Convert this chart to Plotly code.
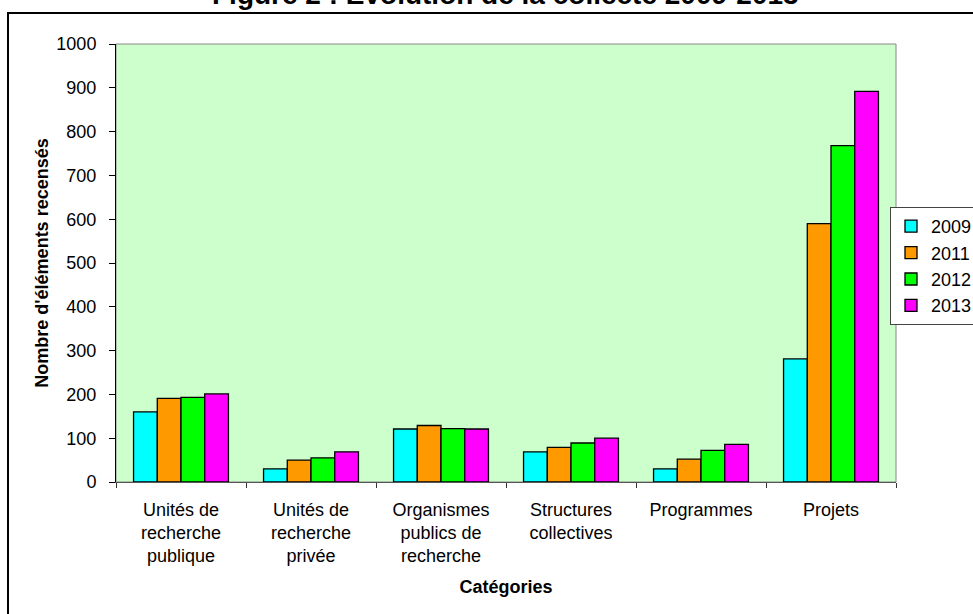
import plotly.graph_objects as go

categories = ["Unités de<br>recherche<br>publique", "Unités de<br>recherche<br>privée",
              "Organismes<br>publics de<br>recherche", "Structures<br>collectives",
              "Programmes", "Projets"]
years = ["2009", "2011", "2012", "2013"]
v2009 = [160, 30, 121, 69, 30, 281]
v2011 = [191, 50, 129, 79, 52, 590]
v2012 = [193, 55, 122, 89, 72, 768]
v2013 = [201, 69, 121, 100, 86, 892]
series = [v2009, v2011, v2012, v2013]
colors = ["#00FFFF", "#FF9900", "#00FF00", "#FF00FF"]
yticks = list(range(0, 1001, 100))
title_text = "Figure 2 : Évolution de la collecte 2009-2013"

W, H = 973, 614
L, R, T, B = 116, 896, 44, 482

fig = go.Figure()
for name, vals, col in zip(years, series, colors):
    fig.add_trace(go.Bar(x=categories, y=vals, name=name,
                         marker=dict(color=col, line=dict(color="black", width=1.3))))

font = "Arial, Liberation Sans, sans-serif"
fig.update_layout(
    width=W, height=H,
    margin=dict(l=L, r=W - R, t=T, b=H - B, pad=0, autoexpand=False),
    paper_bgcolor="white", plot_bgcolor="#CCFFCC",
    barmode="group", bargap=0.27, bargroupgap=0,
    font=dict(family=font, size=18, color="black"),
    annotations=[dict(text="<b>" + title_text + "</b>", xref="paper", yref="paper",
                      x=(505 - L) / (R - L), y=(B + 5) / (B - T),
                      xanchor="center", yanchor="middle", showarrow=False,
                      font=dict(size=28, family=font, color="black"))],
    legend=dict(x=(890 - L) / (R - L), y=(B - 207) / (B - T), xanchor="left", yanchor="top",
                bgcolor="white", bordercolor="#444", borderwidth=1,
                font=dict(size=18, family=font), tracegroupgap=0,
                itemwidth=30),
    xaxis=dict(showline=True, linecolor="#555", linewidth=1, ticks="outside",
               tickson="boundaries", ticklen=5, tickcolor="#333", showgrid=False,
               ticklabelstandoff=11,
               title=dict(text="<b>Catégories</b>", font=dict(size=18), standoff=14),
               tickfont=dict(size=18)),
    yaxis=dict(range=[0, 1000], tickvals=yticks, showline=True, linecolor="black", linewidth=1,
               ticks="outside", ticklen=6, tickcolor="black", showgrid=False, zeroline=False,
               ticklabelstandoff=9,
               title=dict(text="<b>Nombre d'éléments recensés</b>", font=dict(size=18), standoff=3),
               tickfont=dict(size=18)),
    shapes=[
        dict(type="rect", xref="paper", yref="paper", x0=0, x1=1, y0=0, y1=1,
             line=dict(color="#888", width=1), layer="below"),
        dict(type="rect", xref="paper", yref="paper",
             x0=(8 - L) / (R - L), x1=1.2, y0=-0.5, y1=(B - 13) / (B - T),
             line=dict(color="black", width=2)),
    ],
)
fig.write_html("out.html")
